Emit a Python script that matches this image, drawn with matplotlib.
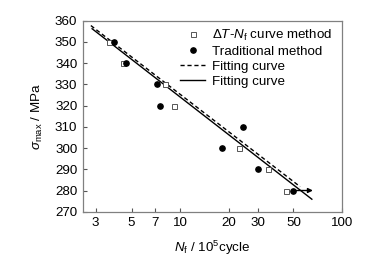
import matplotlib
matplotlib.use("Agg")
import matplotlib.pyplot as plt

plt.rcParams['font.family'] = ['Liberation Sans', 'DejaVu Sans']
plt.rcParams['mathtext.fontset'] = 'custom'
plt.rcParams['mathtext.rm'] = 'Liberation Sans'
plt.rcParams['mathtext.it'] = 'Liberation Sans:italic'
plt.rcParams['mathtext.bf'] = 'Liberation Sans:bold'

# ---------- data ----------
dT_N = [3.65, 4.4, 8.0, 9.1, 23.0, 35.0, 45.0]
dT_S = [350, 340, 330, 320, 300, 290, 280]

trad_N = [3.9, 4.6, 7.2, 7.5, 24.4, 18.2, 30.0, 50.0]
trad_S = [350, 340, 330, 320, 310, 300, 290, 280]

fit_dash_N = [2.8, 55.0]
fit_dash_S = [357.7, 281.8]
fit_solid_N = [2.85, 65.0]
fit_solid_S = [356.2, 275.9]

runout_from = (50.0, 280)
runout_to = (66.0, 280)

xticks = [3, 5, 7, 10, 20, 30, 50, 100]
yticks = [270, 280, 290, 300, 310, 320, 330, 340, 350, 360]

FS = 9.6

fig = plt.figure(figsize=(3.91, 2.65), dpi=100)
ax = fig.add_axes([0.212, 0.201, 0.663, 0.721])

ax.plot(dT_N, dT_S, ls='none', marker='s', ms=3.6, mfc='white', mec='#555555',
        mew=0.7, label=r'$\Delta T$-$N_{\rm f}$ curve method', zorder=3)
ax.plot(trad_N, trad_S, ls='none', marker='o', ms=3.8, color='black',
        label='Traditional method', zorder=4)
ax.plot(fit_dash_N, fit_dash_S, color='black', lw=1, ls=(0, (3, 2)),
        label='Fitting curve')
ax.plot(fit_solid_N, fit_solid_S, color='black', lw=1, label='Fitting curve')
ax.annotate('', xy=runout_to, xytext=runout_from,
            arrowprops=dict(arrowstyle='-|>', color='black', lw=1,
                            mutation_scale=7, shrinkA=0, shrinkB=0))

ax.set_xscale('log')
ax.set_xlim(2.5, 100)
ax.set_ylim(270, 360)
ax.set_xticks(xticks)
ax.set_xticklabels([str(t) for t in xticks])
ax.minorticks_off()
ax.set_yticks(yticks)
ax.tick_params(direction='in', length=3, labelsize=FS, top=False, right=False,
               color='#555555', pad=4)
for s in ax.spines.values():
    s.set_color('#808080')
    s.set_linewidth(0.9)

ax.set_xlabel(r'$N_{\rm f}$ / 10$^{5}$cycle', fontsize=FS, labelpad=7)
ax.set_ylabel(r'$\sigma_{\rm max}$ / MPa', fontsize=FS, labelpad=7)

ax.legend(loc='upper left', bbox_to_anchor=(0.375, 0.964), frameon=False,
          fontsize=FS, borderpad=0, labelspacing=0.2, handlelength=1.9,
          handletextpad=0.5, borderaxespad=0)

fig.savefig('out.png', dpi=100)
